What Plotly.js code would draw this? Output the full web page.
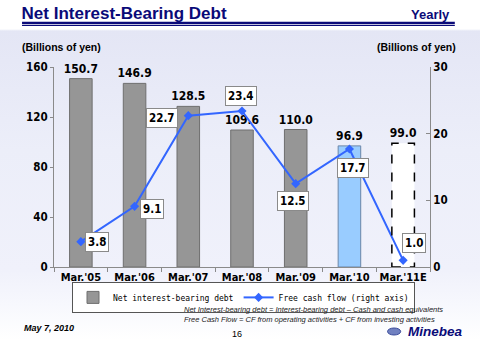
<!DOCTYPE html>
<html><head><meta charset="utf-8">
<script src="https://cdn.plot.ly/plotly-3.0.1.min.js"></script>
<style>
html,body{margin:0;padding:0;}
body{width:480px;height:340px;background:linear-gradient(to bottom,#ffffff 0px,#ffffff 29px,#e4e6f5 31px,#eceef9 150px,#f0f1fb 270px,#f7f8fd 305px,#ffffff 340px);}
#chart{width:480px;height:340px;}
</style></head><body>
<div id="chart"></div>
<script>
const categories = ["Mar.'05","Mar.'06","Mar.'07","Mar.'08","Mar.'09","Mar.'10","Mar.'11E"];
const debt = [150.7,146.9,128.5,109.6,110.0,96.9,99.0];
const fcf = [3.8,9.1,22.7,23.4,12.5,17.7,1.0];
const barFill = ['#969696','#969696','#969696','#969696','#969696','#99ccff','#ffffff'];
const barLine = ['#6e6e6e','#6e6e6e','#6e6e6e','#6e6e6e','#6e6e6e','#6a86a8','rgba(0,0,0,0)'];
const fcfShift = [[16,0],[17,-3],[-26,-2],[-1,15],[-3,-17],[4,-19],[11,17]];

const BOLD = "DejaVu Sans Condensed, DejaVu Sans, sans-serif";
const ARIAL = "Liberation Sans, Arial, sans-serif";
const NAVY = '#0a0a78';

const bars = {
  type:'bar', x:categories, y:debt, name:'Net interest-bearing debt',
  width:0.42,
  marker:{color:barFill, line:{color:barLine, width:1}},
  text:debt.map(v=>v.toFixed(1)), textposition:'outside', cliponaxis:false,
  constraintext:'none', textangle:0,
  textfont:{family:BOLD, size:12, color:'#000', weight:'bold'},
  hoverinfo:'skip'
};
const line = {
  type:'scatter', mode:'lines+markers', x:categories, y:fcf, yaxis:'y2',
  name:'Free cash flow (right axis)',
  line:{color:'#3366ff', width:2},
  marker:{symbol:'diamond', size:7, color:'#3366ff'},
  cliponaxis:false, hoverinfo:'skip'
};

const annotations = fcf.map((v,i)=>({
  x:i, y:v, xref:'x', yref:'y2', text:v.toFixed(1), showarrow:false,
  xshift:fcfShift[i][0], yshift:fcfShift[i][1],
  bgcolor:'#ffffff', bordercolor:'#8a8a8a', borderwidth:1, borderpad:2,
  font:{family:BOLD, size:11.5, color:'#000', weight:'bold'}
}));

annotations.push(
  {xref:'paper', yref:'paper', x:1.059, y:1.265, xanchor:'right', yanchor:'middle', showarrow:false,
   text:'<b>Yearly</b>', font:{family:ARIAL, size:13, color:NAVY}},
  {xref:'paper', yref:'paper', x:-0.091, y:1.1, xanchor:'left', yanchor:'middle', showarrow:false,
   text:'<b>(Billions of yen)</b>', font:{family:ARIAL, size:10.5, color:'#000'}},
  {xref:'paper', yref:'paper', x:1.074, y:1.1, xanchor:'right', yanchor:'middle', showarrow:false,
   text:'<b>(Billions of yen)</b>', font:{family:ARIAL, size:10.5, color:'#000'}},
  {xref:'paper', yref:'paper', x:0.343, y:-0.237, xanchor:'left', yanchor:'middle', showarrow:false, align:'left', borderpad:0,
   text:'<i>Net Interest-bearing debt = Interest-bearing debt – Cash and cash equivalents<br>Free Cash Flow = CF from operating activities + CF from investing activities</i>',
   font:{family:ARIAL, size:7.5, color:'#222'}},
  {xref:'paper', yref:'paper', x:-0.085, y:-0.305, xanchor:'left', yanchor:'middle', showarrow:false,
   text:'<b><i>May 7, 2010</i></b>', font:{family:ARIAL, size:9, color:'#000'}},
  {xref:'paper', yref:'paper', x:0.487, y:-0.335, xanchor:'center', yanchor:'middle', showarrow:false,
   text:'16', font:{family:ARIAL, size:9, color:'#000'}},
  {xref:'paper', yref:'paper', x:1.09, y:-0.323, xanchor:'right', yanchor:'middle', showarrow:false, borderpad:0,
   text:'<b><i>Minebea</i></b>', font:{family:ARIAL, size:13.5, color:NAVY}}
);

const shapes = [
  {type:'rect', xref:'x', yref:'y', x0:(debt.length-1)-0.21, x1:(debt.length-1)+0.21, y0:0, y1:debt[debt.length-1],
   line:{color:'#000', width:1.5, dash:'dash'}, fillcolor:'rgba(0,0,0,0)'},
  {type:'line', xref:'paper', yref:'paper', x0:-0.085, x1:1.066, y0:1.22, y1:1.22, line:{color:NAVY, width:2.5}},
  {type:'line', xref:'paper', yref:'paper', x0:-0.085, x1:1.066, y0:1.2075, y1:1.2075, line:{color:NAVY, width:1}},
  {type:'circle', xref:'paper', yref:'paper', x0:0.887, x1:0.922, y0:-0.34, y1:-0.305,
   line:{color:'#3a4a9a', width:1}, fillcolor:'#7080c0'}
];

const layout = {
  width:480, height:340,
  margin:{l:54, r:50, t:67, b:73, autoexpand:false},
  paper_bgcolor:'rgba(0,0,0,0)', plot_bgcolor:'rgba(0,0,0,0)',
  title:{text:'<b>Net Interest-Bearing Debt</b>', xref:'container', yref:'container', x:0.045, xanchor:'left', y:0.963, yanchor:'middle',
         font:{family:ARIAL, size:17, color:NAVY}},
  showlegend:true,
  legend:{orientation:'h', x:0.504, y:-0.152, xanchor:'center', yanchor:'middle',
          bgcolor:'#ffffff', bordercolor:'#555', borderwidth:1, itemwidth:30,
          font:{family:'DejaVu Sans Mono, Liberation Mono, monospace', size:8, color:'#000'},
          tracegroupgap:0, traceorder:'normal'},
  xaxis:{type:'category', showline:true, linecolor:'#8a8a8a', linewidth:1, ticks:'outside', tickson:'boundaries',
         ticklen:4, tickcolor:'#8a8a8a', showgrid:false, zeroline:false, fixedrange:true, tickangle:0,
         tickfont:{family:BOLD, size:11, color:'#000', weight:'bold'}},
  yaxis:{range:[0,160], dtick:40, showline:true, linecolor:'#8a8a8a', ticks:'outside', ticklen:3, tickcolor:'#8a8a8a',
         showgrid:false, zeroline:false, tickfont:{family:BOLD, size:11.5, color:'#000', weight:'bold'}},
  yaxis2:{range:[0,30], dtick:10, overlaying:'y', side:'right', showline:true, linecolor:'#8a8a8a', ticks:'inside', ticklen:4,
          tickcolor:'#8a8a8a', showgrid:false, zeroline:false, tickfont:{family:BOLD, size:11.5, color:'#000', weight:'bold'}},
  annotations:annotations, shapes:shapes
};

Plotly.newPlot('chart',[bars,line],layout,{displayModeBar:false, staticPlot:true});
</script>
</body></html>
